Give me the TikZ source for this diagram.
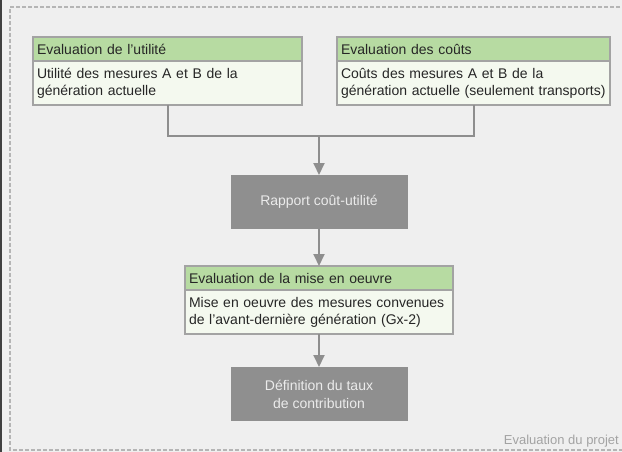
\documentclass[tikz,border=0pt]{standalone}
\usepackage{fontspec}
\setmainfont{Liberation Sans}
\usepackage{tikz}
\usetikzlibrary{arrows.meta, positioning}

\definecolor{bgcol}{HTML}{EFEFEF}
\definecolor{headcol}{HTML}{B7DBA2}
\definecolor{bodycol}{HTML}{F4F9EF}
\definecolor{framecol}{HTML}{A3A3A3}
\definecolor{linecol}{HTML}{8E8E8E}
\definecolor{stepcol}{HTML}{8F8F8F}

\begin{document}
\begin{tikzpicture}[x=1pt, y=-1pt,
    head/.style={rectangle, draw=framecol, line width=1.2pt, fill=headcol, outer sep=0pt,
        inner xsep=4pt, inner ysep=0pt, minimum height=24pt, align=left,
        font=\fontsize{14}{17}\selectfont, text=black!85},
    body/.style={head, fill=bodycol, minimum height=44pt},
    stepbox/.style={rectangle, fill=stepcol, outer sep=0pt, minimum width=177pt,
        minimum height=54pt, align=center, text=white!92!black,
        font=\fontsize{14}{18}\selectfont},
    link/.style={draw=linecol, line width=2pt},
    arr/.style={link, -{Triangle[length=12pt, width=11pt]}}]
        % background and frame
        \useasboundingbox (0,0) rectangle (622,452);
        \fill[bgcol] (0,0) rectangle (622,452);
        \draw[black!75, line width=1.5pt] (1,0) -- (1,452);
        \draw[framecol!80, line width=1.5pt, dash pattern=on 4pt off 2pt] (626,7) -- (10,7) -- (10,450) -- (626,450);

        % evaluation boxes
        \node[head, text width=261pt, anchor=north west] (util) at (33,37) {Evaluation de l'utilité};
        \node[body, text width=261pt, below=0pt of util] (utilbody) {Utilité des mesures A et B de la\\génération actuelle};
        \node[head, text width=265pt, anchor=north west] (cout) at (337,37) {Evaluation des coûts};
        \node[body, text width=265pt, below=0pt of cout] (coutbody) {Coûts des mesures A et B de la\\génération actuelle (seulement transports)};

        \coordinate (join) at (319,136);
        \node[stepbox, anchor=north] (rapport) at (319,175) {Rapport coût-utilité};

        \node[head, text width=260pt, anchor=north] (mise) at (319,266) {Evaluation de la mise en oeuvre};
        \node[body, text width=260pt, below=0pt of mise] (misebody) {Mise en oeuvre des mesures convenues\\de l'avant-dernière génération (Gx-2)};

        \node[stepbox, below=33pt of misebody] (taux) {Définition du taux\\de contribution};

        \node[anchor=base east, inner sep=0pt, text=framecol, font=\fontsize{13}{15}\selectfont] (projet) at (619,444) {Evaluation du projet};

        \path[link] (utilbody.south) |- (join);
        \path[link] (coutbody.south) |- (join);
        \path[arr] (join) -- (rapport.north);
        \path[arr] (rapport.south) -- (mise.north);
        \path[arr] (misebody.south) -- (taux.north);
    \end{tikzpicture}
\end{document}
